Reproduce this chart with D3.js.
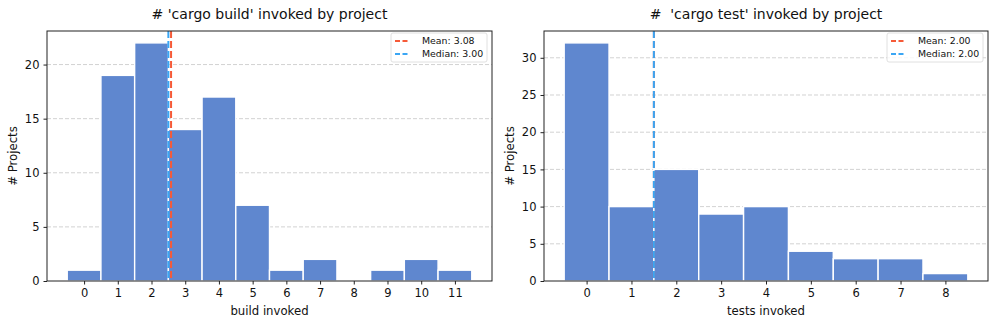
<!DOCTYPE html>
<html>
<head>
<meta charset="utf-8">
<script src="https://cdn.jsdelivr.net/npm/d3@7"></script>
<style>
  body { margin: 0; background: #fff; }
  svg { font-family: "DejaVu Sans", sans-serif; }
</style>
</head>
<body>
<svg width="997" height="325"></svg>
<script>
// build histogram
var buildBins = [0, 1, 2, 3, 4, 5, 6, 7, 8, 9, 10, 11];
var buildCounts = [1, 19, 22, 14, 17, 7, 1, 2, 0, 1, 2, 1];
var buildMean = 3.08, buildMedian = 3.00;
var buildTicksY = [0, 5, 10, 15, 20];

// test histogram
var testBins = [0, 1, 2, 3, 4, 5, 6, 7, 8];
var testCounts = [32, 10, 15, 9, 10, 4, 3, 3, 1];
var testMean = 2.00, testMedian = 2.00;
var testTicksY = [0, 5, 10, 15, 20, 25, 30];

var barColor = "#5f87cf",
    meanColor = "#f65a38",
    medianColor = "#3aa6f4";

var svg = d3.select("svg");

function drawPanel(opt) {
  var left = opt.left, right = opt.right, top = 31, bottom = 281;
  var lo = opt.bins[0] - 0.5, hi = opt.bins[opt.bins.length - 1] + 0.5;
  var pad = (hi - lo) * 0.05;
  var x = d3.scaleLinear().domain([lo - pad, hi + pad]).range([left, right]);
  var ymax = d3.max(opt.counts) * 1.05;
  var y = d3.scaleLinear().domain([0, ymax]).range([bottom, top]);

  var g = svg.append("g");

  // grid
  g.append("g").selectAll("line")
    .data(opt.ticksY.filter(function(d) { return d > 0; }))
    .enter().append("line")
    .attr("x1", left).attr("x2", right)
    .attr("y1", function(d) { return y(d); })
    .attr("y2", function(d) { return y(d); })
    .attr("stroke", "#c6c6c6")
    .attr("stroke-width", 0.8)
    .attr("stroke-dasharray", "4,2");

  // bars
  g.append("g").selectAll("rect")
    .data(opt.bins.map(function(b, i) { return {bin: b, value: opt.counts[i]}; }))
    .enter().append("rect")
    .attr("x", function(d) { return x(d.bin - 0.5); })
    .attr("width", function(d) { return x(d.bin + 0.5) - x(d.bin - 0.5); })
    .attr("y", function(d) { return y(d.value); })
    .attr("height", function(d) { return y(0) - y(d.value); })
    .attr("fill", barColor)
    .attr("stroke", "#fff")
    .attr("stroke-width", 1.4);

  // mean / median lines (drawn on bin edges)
  g.append("line")
    .attr("x1", x(opt.mean - 0.5)).attr("x2", x(opt.mean - 0.5))
    .attr("y1", top).attr("y2", bottom)
    .attr("stroke", meanColor).attr("stroke-width", 2)
    .attr("stroke-dasharray", "7,3");
  g.append("line")
    .attr("x1", x(opt.median - 0.5)).attr("x2", x(opt.median - 0.5))
    .attr("y1", top).attr("y2", bottom)
    .attr("stroke", medianColor).attr("stroke-width", 2)
    .attr("stroke-dasharray", "7,3");

  // frame
  g.append("rect")
    .attr("x", left).attr("y", top)
    .attr("width", right - left).attr("height", bottom - top)
    .attr("fill", "none").attr("stroke", "#222").attr("stroke-width", 1);

  // axes
  var xa = g.append("g")
    .attr("transform", "translate(0," + bottom + ")")
    .call(d3.axisBottom(x).tickValues(opt.bins).tickSize(3.5).tickPadding(4).tickFormat(d3.format("d")));
  var ya = g.append("g")
    .attr("transform", "translate(" + left + ",0)")
    .call(d3.axisLeft(y).tickValues(opt.ticksY).tickSize(3.5).tickPadding(4).tickFormat(d3.format("d")));
  [xa, ya].forEach(function(a) {
    a.select(".domain").remove();
    a.selectAll("text").attr("font-size", 11.5).attr("fill", "#111")
      .attr("font-family", "DejaVu Sans, sans-serif");
    a.selectAll("line").attr("stroke", "#222");
  });

  // labels
  g.append("text")
    .attr("x", (left + right) / 2).attr("y", 19)
    .attr("text-anchor", "middle").attr("font-size", 14).attr("fill", "#111")
    .attr("xml:space", "preserve")
    .text(opt.title);
  g.append("text")
    .attr("x", (left + right) / 2).attr("y", 315)
    .attr("text-anchor", "middle").attr("font-size", 11.7).attr("fill", "#111")
    .text(opt.xlabel);
  g.append("text")
    .attr("transform", "translate(" + (left - 30) + "," + ((top + bottom) / 2) + ") rotate(-90)")
    .attr("text-anchor", "middle").attr("font-size", 11.7).attr("fill", "#111")
    .text("# Projects");

  // legend
  var lw = 96, lh = 29;
  var lg = g.append("g").attr("transform", "translate(" + (right - 5 - lw) + "," + (top + 2) + ")");
  lg.append("rect")
    .attr("width", lw).attr("height", lh).attr("rx", 2)
    .attr("fill", "#fff").attr("fill-opacity", 0.8)
    .attr("stroke", "#d8d8d8").attr("stroke-width", 0.8);
  var items = [
    {label: "Mean: " + opt.mean.toFixed(2), color: meanColor},
    {label: "Median: " + opt.median.toFixed(2), color: medianColor}
  ];
  var li = lg.selectAll("g.item").data(items).enter().append("g")
    .attr("class", "item")
    .attr("transform", function(d, i) { return "translate(0," + (8 + i * 13) + ")"; });
  li.append("line")
    .attr("x1", 4).attr("x2", 19)
    .attr("stroke", function(d) { return d.color; })
    .attr("stroke-width", 2).attr("stroke-dasharray", "5,2.5");
  li.append("text")
    .attr("x", 31).attr("dy", "0.35em")
    .attr("font-size", 9.4).attr("fill", "#111")
    .text(function(d) { return d.label; });
}

drawPanel({
  left: 47, right: 492,
  bins: buildBins, counts: buildCounts, ticksY: buildTicksY,
  mean: buildMean, median: buildMedian,
  title: "# 'cargo build' invoked by project", xlabel: "build invoked"
});

drawPanel({
  left: 544, right: 988,
  bins: testBins, counts: testCounts, ticksY: testTicksY,
  mean: testMean, median: testMedian,
  title: "#  'cargo test' invoked by project", xlabel: "tests invoked"
});
</script>
</body>
</html>
